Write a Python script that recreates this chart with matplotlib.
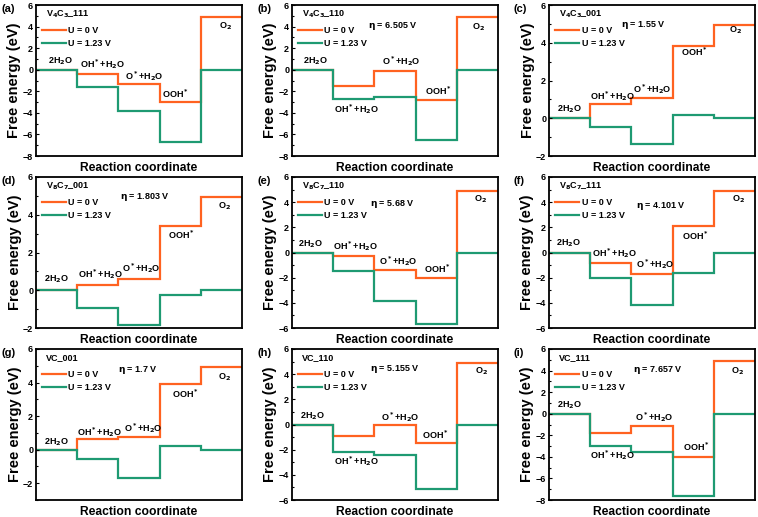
import numpy as np
import matplotlib
matplotlib.use("Agg")
import matplotlib.pyplot as plt

plt.rcParams["font.family"] = ["Liberation Sans", "DejaVu Sans"]
plt.rcParams["font.weight"] = "bold"
plt.rcParams["mathtext.default"] = "bf"

# free energies at U = 0 V for 2H2O, OH*+H2O, O*+H2O, OOH*, O2
names = [r"V$_4$C$_3$_111", r"V$_4$C$_3$_110", r"V$_4$C$_3$_001",
         r"V$_8$C$_7$_001", r"V$_8$C$_7$_110", r"V$_8$C$_7$_111",
         "VC_001", "VC_110", "VC_111"]
panel_tags = ["(a)", "(b)", "(c)", "(d)", "(e)", "(f)", "(g)", "(h)", "(i)"]
g_zero = [
    [0, -0.40, -1.35, -3.00, 4.92],
    [0, -1.50, -0.10, -2.82, 4.92],
    [0, 0.75, 1.08, 3.85, 4.92],
    [0, 0.30, 0.60, 3.43, 4.92],
    [0, -0.25, -1.40, -1.99, 4.92],
    [0, -0.80, -1.70, 2.10, 4.92],
    [0, 0.65, 0.75, 3.90, 4.92],
    [0, -0.95, 0.00, -1.47, 4.92],
    [0, -1.75, -1.10, -3.97, 4.92],
]
etas = [None, "6.505", "1.55", "1.803", "5.68", "4.101", "1.7", "5.155", "7.657"]
U = 1.23
n_e = np.arange(5)
species = [r"2H$_2$O", r"OH$^*$+H$_2$O", r"O$^*$+H$_2$O", r"OOH$^*$", r"O$_2$"]
ylims = [(-8, 6), (-8, 6), (-2, 6), (-2, 6), (-6, 6), (-6, 6), (-3, 6), (-6, 6), (-8, 6)]

# label positions (data coords) per panel
label_pos = [
    [(0.28, 0.83), (1.07, 0.52), (2.17, -0.58), (3.07, -2.24), (4.43, 4.05)],
    [(0.26, 0.83), (1.02, -3.67), (2.19, 0.83), (3.23, -1.94), (4.36, 3.98)],
    [(0.20, 0.48), (1.00, 1.19), (2.05, 1.54), (3.20, 3.50), (4.38, 4.65)],
    [(0.19, 0.57), (1.03, 0.86), (2.08, 1.16), (3.20, 2.95), (4.42, 4.46)],
    [(0.14, 0.67), (1.00, 0.50), (2.10, -0.67), (3.20, -1.29), (4.42, 4.27)],
    [(0.18, 0.70), (1.05, -0.05), (2.12, -0.91), (3.22, 1.29), (4.43, 4.24)],
    [(0.19, 0.46), (1.00, 1.06), (2.14, 1.26), (3.29, 3.30), (4.42, 4.30)],
    [(0.20, 0.66), (1.02, -2.93), (2.15, 0.61), (3.15, -0.80), (4.43, 4.20)],
    [(0.20, 0.75), (0.99, -3.87), (2.08, -0.28), (3.25, -3.09), (4.42, 3.94)],
]
eta_pos = [None, (0.37, 0.86), (0.35, 0.865), (0.41, 0.865), (0.38, 0.82),
           (0.42, 0.81), (0.40, 0.86), (0.38, 0.865), (0.41, 0.86)]

orange = "#FF6220"
green = "#1E9A72"
W, H = 758, 517
fig = plt.figure(figsize=(W / 100, H / 100), dpi=100)
lefts = [36, 292, 549]
tops = [5, 177, 349]
aw, ah = 206, 151

for k in range(9):
    r, c = divmod(k, 3)
    ax = fig.add_axes([lefts[c] / W, 1 - (tops[r] + ah) / H, aw / W, ah / H])
    g0 = np.array(g_zero[k])
    g1 = g0 - n_e * U
    xs = np.arange(6)
    ax.stairs(g0, xs, color=orange, lw=1.6, baseline=None, label="U = 0 V")
    ax.stairs(g1, xs, color=green, lw=1.6, baseline=None, label="U = 1.23 V")
    ax.set_xlim(0, 5)
    ax.set_ylim(*ylims[k])
    ax.set_yticks(np.arange(ylims[k][0] + ylims[k][0] % 2, 7, 2))
    ax.set_yticks(np.arange(ylims[k][0], 7, 1), minor=True)
    ax.set_xticks([])
    ax.tick_params(axis="y", direction="in", labelsize=6.5, length=2.5, width=0.8, pad=2)
    ax.tick_params(axis="y", which="minor", direction="in", length=1.5, width=0.8)
    for s in ax.spines.values():
        s.set_linewidth(1.3)
    ax.set_ylabel("Free energy (eV)", fontsize=10.5, fontweight="bold", labelpad=1)
    ax.set_xlabel("Reaction coordinate", fontsize=8.7, fontweight="bold", labelpad=4)
    for (tx, ty), sp in zip(label_pos[k], species):
        ax.text(tx, ty, sp, fontsize=6.5, fontweight="bold", ha="left", va="center")
    ax.text(0.05, 0.94, names[k], transform=ax.transAxes, fontsize=6.5,
            fontweight="bold", ha="left", va="center")
    ax.legend(loc="upper left", bbox_to_anchor=(0.0, 0.905), frameon=False,
              fontsize=6.5, handlelength=2.6, handletextpad=0.3, labelspacing=0.45,
              borderaxespad=0.3)
    if etas[k] is not None:
        ex, ey = eta_pos[k]
        ax.text(ex, ey, r"$\eta$ = " + etas[k] + " V", transform=ax.transAxes,
                fontsize=6.5, fontweight="bold", ha="left", va="center")
    fig.text((lefts[c] - 36) / W + 1 / W, 1 - (tops[r] + 4) / H, panel_tags[k],
             fontsize=8, fontweight="bold", ha="left", va="center")

fig.savefig("out.png", dpi=100)
